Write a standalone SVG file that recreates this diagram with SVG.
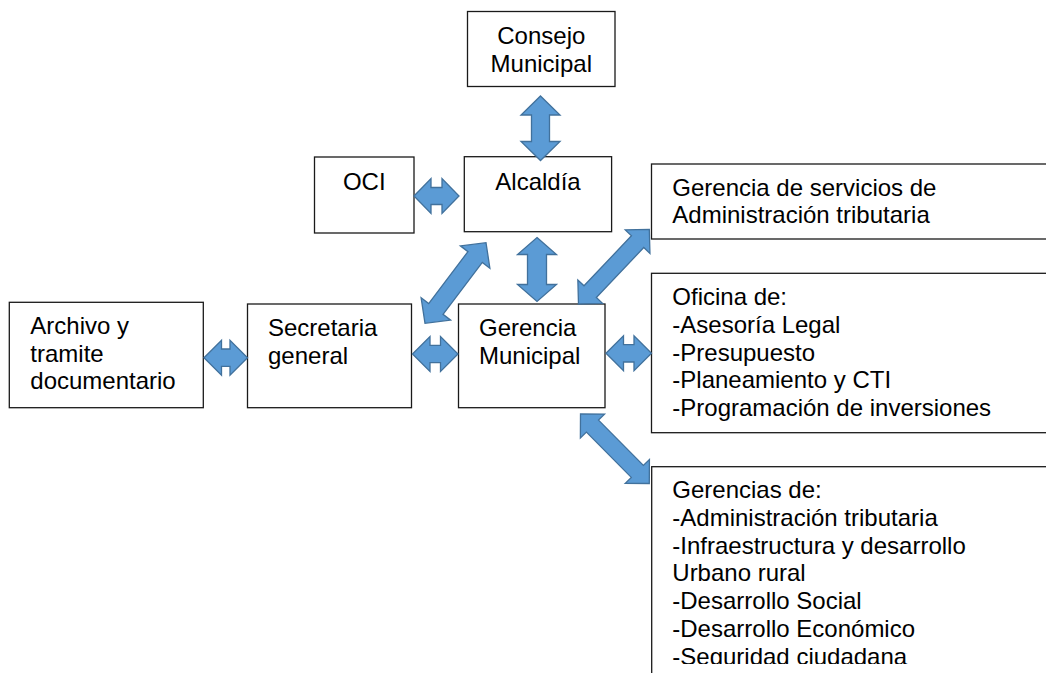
<svg xmlns="http://www.w3.org/2000/svg" width="1046" height="673" viewBox="0 0 1046 673">
<style>
.box{fill:#fff;stroke:#1a1a1a;stroke-width:1.3}
.t{font-family:"Liberation Sans",Arial,sans-serif;font-size:24px;fill:#000}
.c{text-anchor:middle}
.arr{fill:#5B9BD5;stroke:#41719C;stroke-width:1.3;stroke-linejoin:miter}
</style>
<defs>
<clipPath id="clipBottom"><rect x="0" y="0" width="1046" height="664"/></clipPath>
</defs>
<rect width="1046" height="673" fill="#fff"/>

<g id="consejo">
<rect class="box" x="467.5" y="11.5" width="147.5" height="75"/>
<text class="t c" x="541.3" y="44.3">Consejo</text>
<text class="t c" x="541.3" y="71.8">Municipal</text>
</g>
<g id="oci">
<rect class="box" x="314.5" y="157" width="99.5" height="76"/>
<text class="t c" x="364.3" y="190">OCI</text>
</g>
<g id="alcaldia">
<rect class="box" x="464.3" y="156.7" width="147.3" height="75"/>
<text class="t c" x="538" y="190">Alcaldía</text>
</g>
<g id="servicios">
<rect class="box" x="651.5" y="164" width="420" height="75"/>
<text class="t" x="672.3" y="195.7">Gerencia de servicios de</text>
<text class="t" x="672.3" y="223.3">Administración tributaria</text>
</g>
<g id="oficina">
<rect class="box" x="651.5" y="273.3" width="420" height="159.4"/>
<text class="t" x="672.3" y="305.3">Oficina de:</text>
<text class="t" x="672.3" y="333">-Asesoría Legal</text>
<text class="t" x="672.3" y="360.7">-Presupuesto</text>
<text class="t" x="672.3" y="388.4">-Planeamiento y CTI</text>
<text class="t" x="672.3" y="416.1">-Programación de inversiones</text>
</g>
<g id="gerencias">
<rect class="box" x="651.7" y="466.7" width="420" height="240"/>
<g clip-path="url(#clipBottom)">
<text class="t" x="672.3" y="498.3">Gerencias de:</text>
<text class="t" x="672.3" y="526">-Administración tributaria</text>
<text class="t" x="672.3" y="553.7">-Infraestructura y desarrollo</text>
<text class="t" x="672.3" y="581.4">Urbano rural</text>
<text class="t" x="672.3" y="609.1">-Desarrollo Social</text>
<text class="t" x="672.3" y="636.8">-Desarrollo Económico</text>
<text class="t" x="672.3" y="664.8">-Seguridad ciudadana</text>
</g>
</g>
<g id="archivo">
<rect class="box" x="9.3" y="302.3" width="194" height="105.4"/>
<text class="t" x="30.3" y="334">Archivo y</text>
<text class="t" x="30.3" y="361.7">tramite</text>
<text class="t" x="30.3" y="389.3">documentario</text>
</g>
<g id="secretaria">
<rect class="box" x="247.5" y="304" width="164" height="103.7"/>
<text class="t" x="268" y="336">Secretaria</text>
<text class="t" x="268" y="363.5">general</text>
</g>
<g id="gerencia-municipal">
<rect class="box" x="458.5" y="304" width="146.5" height="103.7"/>
<text class="t" x="479" y="336">Gerencia</text>
<text class="t" x="479" y="363.5">Municipal</text>
</g>

<g id="connectors">
<path class="arr" d="M540.5,96 L560,115 L549.5,115 L549.5,141.5 L560,141.5 L540.5,160.5 L521,141.5 L531.5,141.5 L531.5,115 L521,115 Z"/>
<path class="arr" d="M414,196 L431,178.5 L431,187.5 L442,187.5 L442,178.5 L459,196 L442,213.5 L442,204.5 L431,204.5 L431,213.5 Z"/>
<path class="arr" d="M537,237.5 L556.5,254.5 L546.5,254.5 L546.5,284.5 L556.5,284.5 L537,301.5 L517.5,284.5 L527.5,284.5 L527.5,254.5 L517.5,254.5 Z"/>
<path class="arr" d="M204,357.7 L221.5,340.2 L221.5,349 L230,349 L230,340.2 L247.5,357.7 L230,375.2 L230,366.4 L221.5,366.4 L221.5,375.2 Z"/>
<path class="arr" d="M412.5,354 L430,336.5 L430,345.3 L440.5,345.3 L440.5,336.5 L458,354 L440.5,371.5 L440.5,362.7 L430,362.7 L430,371.5 Z"/>
<path class="arr" d="M606,353.3 L623.5,335.8 L623.5,344.6 L634,344.6 L634,335.8 L651.5,353.3 L634,370.8 L634,362 L623.5,362 L623.5,370.8 Z"/>
<path class="arr" transform="translate(455.5,283) rotate(-52.9)" d="M-50.55,0 L-32.55,-18.5 L-32.55,-9 L32.55,-9 L32.55,-18.5 L50.55,0 L32.55,18.5 L32.55,9 L-32.55,9 L-32.55,18.5 Z"/>
<path class="arr" transform="translate(613.9,266.65) rotate(-46.5)" d="M-51.45,0 L-34.45,-17 L-34.45,-8.5 L34.45,-8.5 L34.45,-17 L51.45,0 L34.45,17 L34.45,8.5 L-34.45,8.5 L-34.45,17 Z"/>
<path class="arr" transform="translate(614.9,448.75) rotate(45.3)" d="M-48.9,0 L-31.9,-17 L-31.9,-8.5 L31.9,-8.5 L31.9,-17 L48.9,0 L31.9,17 L31.9,8.5 L-31.9,8.5 L-31.9,17 Z"/>
</g>
</svg>
